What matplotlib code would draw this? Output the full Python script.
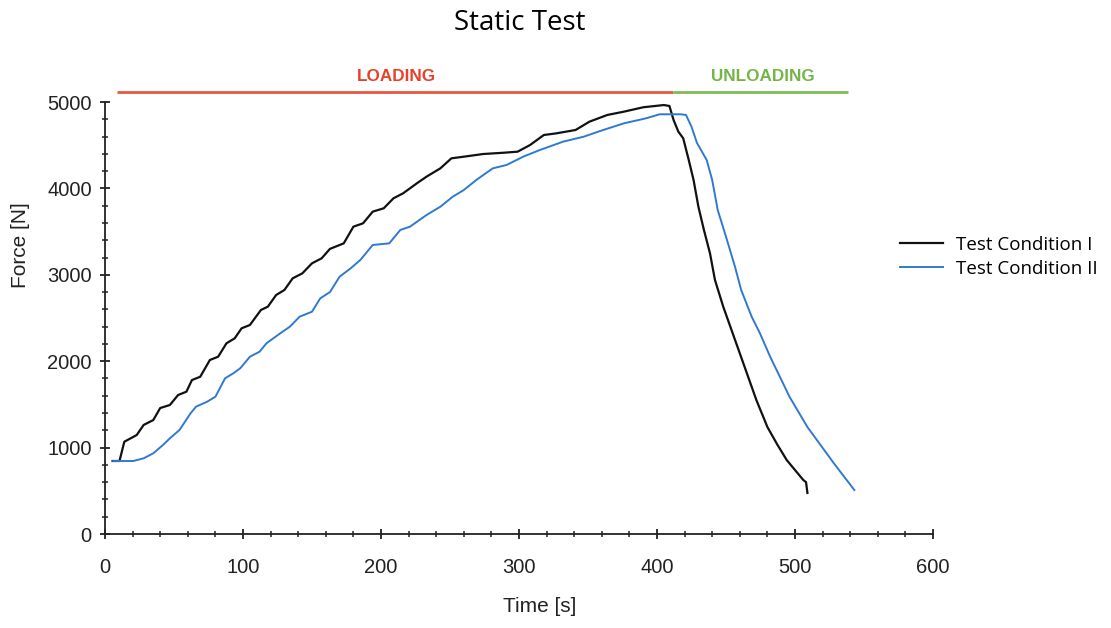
import matplotlib
matplotlib.use("Agg")
import matplotlib.pyplot as plt
from matplotlib.ticker import MultipleLocator

# ---- data ----
t_cond1 = [5.5, 10.5, 14, 19, 23, 28, 35, 40, 47, 53, 59, 63, 69, 76, 82, 88, 94, 99, 105,
           113, 118, 124, 130, 136, 143, 150, 157, 163, 173, 180, 187, 194, 202, 209, 216,
           226, 233, 243, 251, 260, 274, 289, 299, 308, 318, 327, 341, 351, 364, 376, 390,
           405, 409, 412, 415.5, 419, 423, 426.5, 430, 434, 438.4, 442, 448, 454, 460, 466,
           472, 480, 487, 494, 506, 508, 509]
f_cond1 = [845, 845, 1068, 1111, 1146, 1262, 1319, 1458, 1493, 1609, 1647, 1782, 1820, 2014,
           2052, 2207, 2265, 2381, 2419, 2593, 2631, 2766, 2824, 2959, 3017, 3133, 3191, 3300,
           3364, 3557, 3596, 3731, 3770, 3885, 3943, 4059, 4136, 4232, 4348, 4367, 4398, 4413,
           4425, 4502, 4618, 4637, 4676, 4772, 4850, 4888, 4939, 4965, 4954, 4792, 4656, 4580,
           4329, 4097, 3788, 3519, 3249, 2940, 2631, 2361, 2091, 1821, 1551, 1238, 1040, 856,
           625, 600, 475]

t_cond2 = [6, 20.5, 28, 35, 42, 47, 54, 62, 66, 74, 80, 87, 93, 98, 105, 112, 117, 127, 134,
           141, 150, 156, 163, 170, 178, 185, 194, 206, 214, 221, 233, 243, 252, 260, 269,
           281, 291, 303, 315, 332, 347, 361, 376, 392, 402, 417, 421, 425, 429, 436, 440,
           444, 450, 456.5, 461, 468.6, 474.6, 482, 489, 496, 509, 528, 543]
f_cond2 = [845, 845, 876, 934, 1030, 1107, 1204, 1397, 1474, 1531, 1589, 1802, 1860, 1918,
           2052, 2110, 2207, 2323, 2400, 2515, 2573, 2728, 2800, 2978, 3075, 3171, 3345, 3364,
           3519, 3557, 3692, 3788, 3904, 3981, 4097, 4232, 4271, 4367, 4444, 4541, 4599, 4676,
           4753, 4811, 4858, 4858, 4850, 4714, 4525, 4329, 4097, 3750, 3441, 3094, 2824, 2515,
           2323, 2052, 1821, 1589, 1238, 822, 509]

series_labels = ["Test Condition I", "Test Condition II"]
phase_labels = ["LOADING", "UNLOADING"]
phase_bounds = [8.7, 411.6, 538.4]   # time span of the loading / unloading bars
phase_level = 5116
x_ticks = [0, 100, 200, 300, 400, 500, 600]
y_ticks = [0, 1000, 2000, 3000, 4000, 5000]

# ---- figure ----
fig = plt.figure(figsize=(11.11, 6.28), dpi=100)
ax = fig.add_axes([105 / 1111, 1 - 534 / 628, (933 - 105) / 1111, (534 - 102) / 628])

ax.plot(t_cond1, f_cond1, color="#111111", lw=1.6, label=series_labels[0])
ax.plot(t_cond2, f_cond2, color="#2f7ad0", lw=1.4, label=series_labels[1])

ax.set_xlim(0, 600)
ax.set_ylim(0, 5000)
ax.set_xticks(x_ticks)
ax.set_yticks(y_ticks)
ax.xaxis.set_minor_locator(MultipleLocator(20))
ax.yaxis.set_minor_locator(MultipleLocator(200))
for s in ["top", "right"]:
    ax.spines[s].set_visible(False)
for s in ["left", "bottom"]:
    ax.spines[s].set_linewidth(1.3)
    ax.spines[s].set_color("#222222")

ax.tick_params(axis="both", which="major", direction="inout", length=7, width=1.3,
               color="#222222", labelsize=14.5, labelcolor="#222222")
ax.tick_params(axis="both", which="minor", direction="inout", length=5, width=1.1,
               color="#222222")
ax.tick_params(axis="x", which="major", pad=14)
ax.tick_params(axis="y", which="major", pad=6)
for lab in ax.get_xticklabels() + ax.get_yticklabels():
    lab.set_fontfamily("Liberation Sans")

# loading / unloading bars
ax.plot([phase_bounds[0], phase_bounds[1]], [phase_level, phase_level], color="#e8573f",
        lw=2, clip_on=False, solid_capstyle="butt")
ax.plot([phase_bounds[1], phase_bounds[2]], [phase_level, phase_level], color="#80bb55",
        lw=2, clip_on=False, solid_capstyle="butt")
ax.text((phase_bounds[0] + phase_bounds[1]) / 2 + 1, 5300, phase_labels[0], color="#e8412a",
        fontsize=12.3, fontweight="bold", family="Liberation Sans", ha="center", va="center")
ax.text((phase_bounds[1] + phase_bounds[2]) / 2 + 2, 5300, phase_labels[1], color="#74b548",
        fontsize=12.3, fontweight="bold", family="Liberation Sans", ha="center", va="center")

# title and axis labels
fig.text(520 / 1111, 1 - 23 / 628, "Static Test", fontsize=20, family="Open Sans",
         ha="center", va="center", color="#000000")
fig.text(20 / 1111, 1 - 245 / 628, "Force [N]", fontsize=15, family="Liberation Sans",
         rotation=90, ha="center", va="center", color="#222222")
fig.text(540 / 1111, 1 - 607 / 628, "Time [s]", fontsize=15, family="Liberation Sans",
         ha="center", va="center", color="#222222")

fig.legend(loc="upper left", bbox_to_anchor=(900 / 1111, 1 - 236 / 628), frameon=False,
           borderpad=0, borderaxespad=0, handlelength=2.3, handletextpad=0.7,
           labelspacing=0.3, prop={"family": "Open Sans", "size": 13.5})

fig.savefig("out.png", dpi=100, facecolor="white")
